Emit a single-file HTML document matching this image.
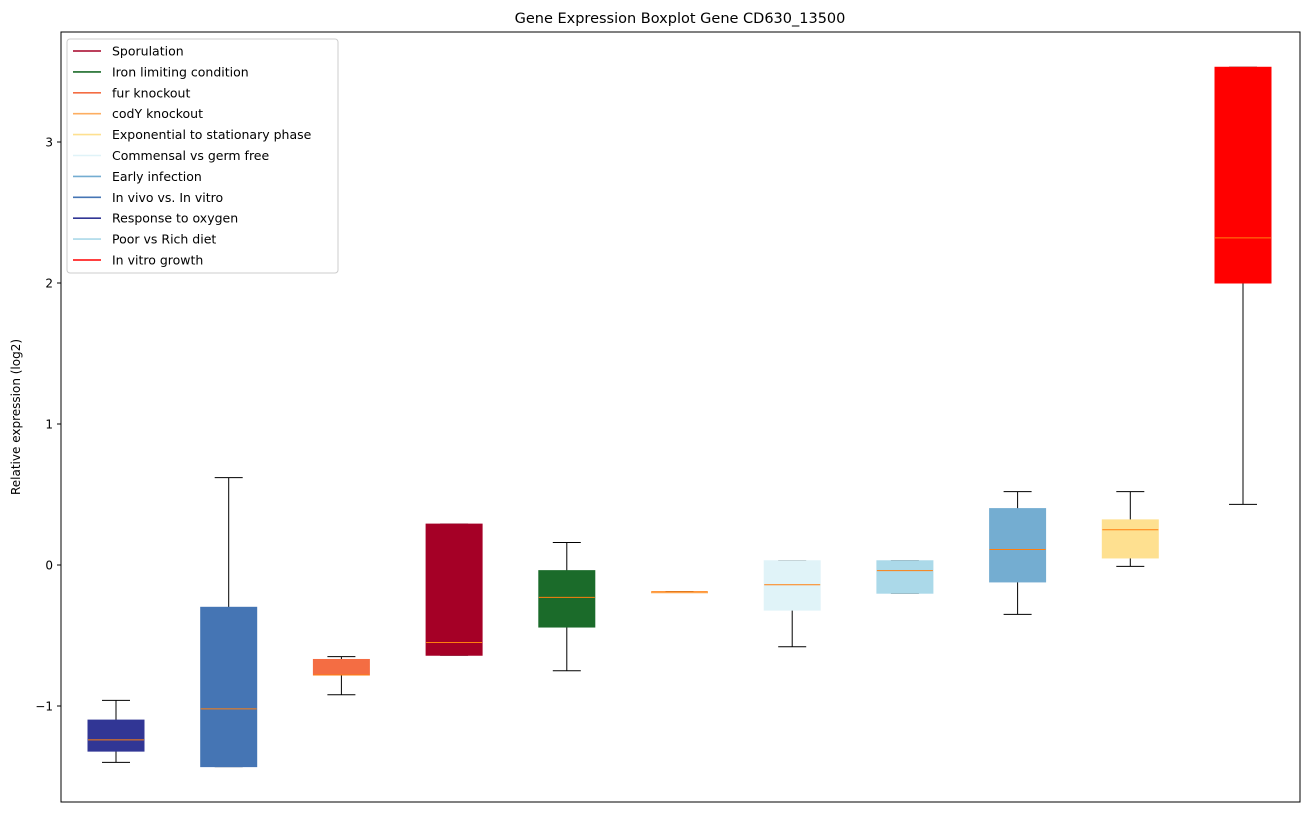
<!DOCTYPE html>
<html><head><meta charset="utf-8"><style>
body{margin:0;background:#fff;font-family:"Liberation Sans","DejaVu Sans",sans-serif;}
svg text{font-family:"DejaVu Sans","Liberation Sans",sans-serif;}
</style></head><body>
<svg id="chart" width="1309" height="812" xmlns="http://www.w3.org/2000/svg">
<rect x="0" y="0" width="1309" height="812" fill="#fff"/>
<text x="680" y="23" text-anchor="middle" font-size="14.5">Gene Expression Boxplot Gene CD630_13500</text>
<text transform="translate(20,417) rotate(-90)" text-anchor="middle" font-size="12">Relative expression (log2)</text>
<g id="marks"></g>
<g id="yticks"></g>
<rect x="61" y="32" width="1239" height="770" fill="none" stroke="#000" stroke-width="1"/>
<g id="legend"></g>
</svg>
<script>
const categories=["Response to oxygen","In vivo vs. In vitro","fur knockout","Sporulation","Iron limiting condition","codY knockout","Commensal vs germ free","Poor vs Rich diet","Early infection","Exponential to stationary phase","In vitro growth"];
const colors=["#313695","#4575b4","#f46d43","#a50026","#1b6b2a","#fdae61","#e0f3f8","#abd9e9","#74add1","#fee090","#ff0000"];
const whiskLow=[-1.40,-1.43,-0.92,-0.64,-0.75,-0.19,-0.58,-0.20,-0.35,-0.01,0.43];
const q1=[-1.32,-1.43,-0.78,-0.64,-0.44,-0.19,-0.32,-0.20,-0.12,0.05,2.00];
const median=[-1.24,-1.02,-0.78,-0.55,-0.23,-0.19,-0.14,-0.04,0.11,0.25,2.32];
const q3=[-1.10,-0.30,-0.67,0.29,-0.04,-0.19,0.03,0.03,0.40,0.32,3.53];
const whiskHigh=[-0.96,0.62,-0.65,0.29,0.16,-0.19,0.03,0.03,0.52,0.52,3.53];
const yTicks=[-1,0,1,2,3];
const legendLabels=["Sporulation","Iron limiting condition","fur knockout","codY knockout","Exponential to stationary phase","Commensal vs germ free","Early infection","In vivo vs. In vitro","Response to oxygen","Poor vs Rich diet","In vitro growth"];
const legendColors=["#a50026","#1b6b2a","#f46d43","#fdae61","#fee090","#e0f3f8","#74add1","#4575b4","#313695","#abd9e9","#ff0000"];

const NS="http://www.w3.org/2000/svg";
const y=v=>565-141*v;
const x=i=>116+i*112.7;
function mk(tag,attrs,parent){const e=document.createElementNS(NS,tag);for(const k in attrs)e.setAttribute(k,attrs[k]);parent.appendChild(e);return e;}
const marks=document.getElementById('marks');
categories.forEach((c,i)=>{
  const g=mk('g',{},marks);
  
  
  const cx=x(i),w=56,cw=28;
  mk('line',{x1:cx,x2:cx,y1:y(q3[i]),y2:y(whiskHigh[i]),stroke:'#000'},g);
  mk('line',{x1:cx,x2:cx,y1:y(q1[i]),y2:y(whiskLow[i]),stroke:'#000'},g);
  mk('line',{x1:cx-cw/2,x2:cx+cw/2,y1:y(whiskHigh[i]),y2:y(whiskHigh[i]),stroke:'#000'},g);
  mk('line',{x1:cx-cw/2,x2:cx+cw/2,y1:y(whiskLow[i]),y2:y(whiskLow[i]),stroke:'#000'},g);
  mk('rect',{x:cx-w/2,y:y(q3[i]),width:w,height:Math.max(1,y(q1[i])-y(q3[i])),fill:colors[i],stroke:colors[i]},g);
  mk('line',{x1:cx-w/2,x2:cx+w/2,y1:y(median[i]),y2:y(median[i]),stroke:'#ff7f0e'},g);
});
const yt=document.getElementById('yticks');
yTicks.forEach(t=>{
  const g=mk('g',{},yt);
  
  
  mk('line',{x1:57,x2:61,y1:y(t),y2:y(t),stroke:'#000'},g);
  const tx=mk('text',{x:53,y:y(t)+4.5,'text-anchor':'end','font-size':'12'},g);
  tx.textContent=t<0?'\u2212'+Math.abs(t):String(t);
});
const lg=document.getElementById('legend');
const box=mk('rect',{x:67,y:39,width:271,height:234,rx:3,fill:'#fff','fill-opacity':0.8,stroke:'#ccc'},lg);


legendLabels.forEach((l,i)=>{
  const g=mk('g',{},lg);
  
  
  const yy=51+i*20.9;
  mk('line',{x1:73,x2:101,y1:yy,y2:yy,stroke:legendColors[i],'stroke-width':1.6},g);
  const t=mk('text',{x:112,y:yy+4.5,'font-size':'12.5'},g);
  t.textContent=l;
});
</script>
</body></html>
